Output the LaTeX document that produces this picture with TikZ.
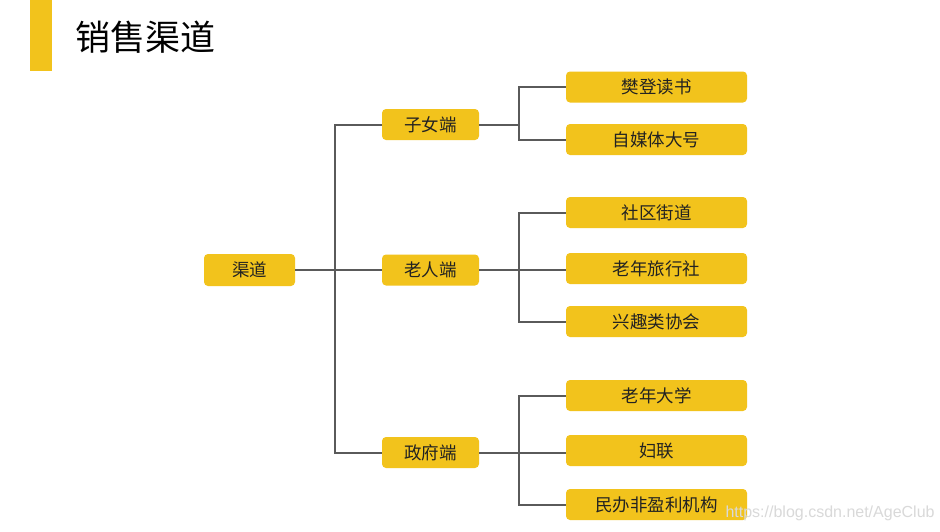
\documentclass[tikz,border=0pt]{standalone}
\usepackage{fontspec}
\newfontfamily\cjk{Noto Sans CJK SC}
\setsansfont{Liberation Sans}
\definecolor{boxyellow}{HTML}{F2C31C}
\definecolor{linegray}{HTML}{5A5A5A}
\definecolor{txt}{HTML}{222222}
\begin{document}
\begin{tikzpicture}[x=1pt,y=-1pt,
  box/.style={fill=boxyellow,rounded corners=4pt,inner sep=0pt,text=txt,font=\cjk\fontsize{17.5}{17.5}\selectfont},
  midbox/.style={box,minimum width=97pt,minimum height=31pt},
  leafbox/.style={box,minimum width=181pt,minimum height=31pt},
  link/.style={draw=linegray,line width=2pt}]
\useasboundingbox[fill=white] (0,0) rectangle (940,531);
\fill[boxyellow] (30,0) rectangle (52,71);
\node[anchor=west,text=black,font=\cjk\fontsize{35}{35}\selectfont] (title) at (72,37) {销售渠道};

\node[box,minimum width=91pt,minimum height=32pt] (root) at (249.5,270) {渠道};
\node[midbox] (m1) at (430.5,124.5) {子女端};
\node[midbox] (m2) at (430.5,270) {老人端};
\node[midbox] (m3) at (430.5,452.5) {政府端};

\node[leafbox] (l1) at (656.5,87) {樊登读书};
\node[leafbox] (l2) at (656.5,139.5) {自媒体大号};
\node[leafbox] (l3) at (656.5,212.5) {社区街道};
\node[leafbox] (l4) at (656.5,268.5) {老年旅行社};
\node[leafbox] (l5) at (656.5,321.5) {兴趣类协会};
\node[leafbox] (l6) at (656.5,395.5) {老年大学};
\node[leafbox] (l7) at (656.5,450.5) {妇联};
\node[leafbox] (l8) at (656.5,504.5) {民办非盈利机构};

\coordinate (t0) at (335,0);
\coordinate (t1) at (519,0);
\draw[link] (root.east) -- (m2.west);
\draw[link] (m1.west) -| (t0 |- m3.west) -- (m3.west);
\draw[link] (m1.east) -- (t1 |- m1.east);
\draw[link] (l1.west) -| (t1 |- l2.west) -- (l2.west);
\draw[link] (m2.east) -- (m2.east -| l4.west);
\draw[link] (l3.west) -| (t1 |- l5.west) -- (l5.west);
\draw[link] (m3.east) -- (m3.east -| l7.west);
\draw[link] (l6.west) -| (t1 |- l8.west) -- (l8.west);

\node[anchor=west,text=gray!30,font=\sffamily\fontsize{16}{16}\selectfont] (wm) at (722,513) {https://blog.csdn.net/AgeClub};
\end{tikzpicture}
\end{document}
